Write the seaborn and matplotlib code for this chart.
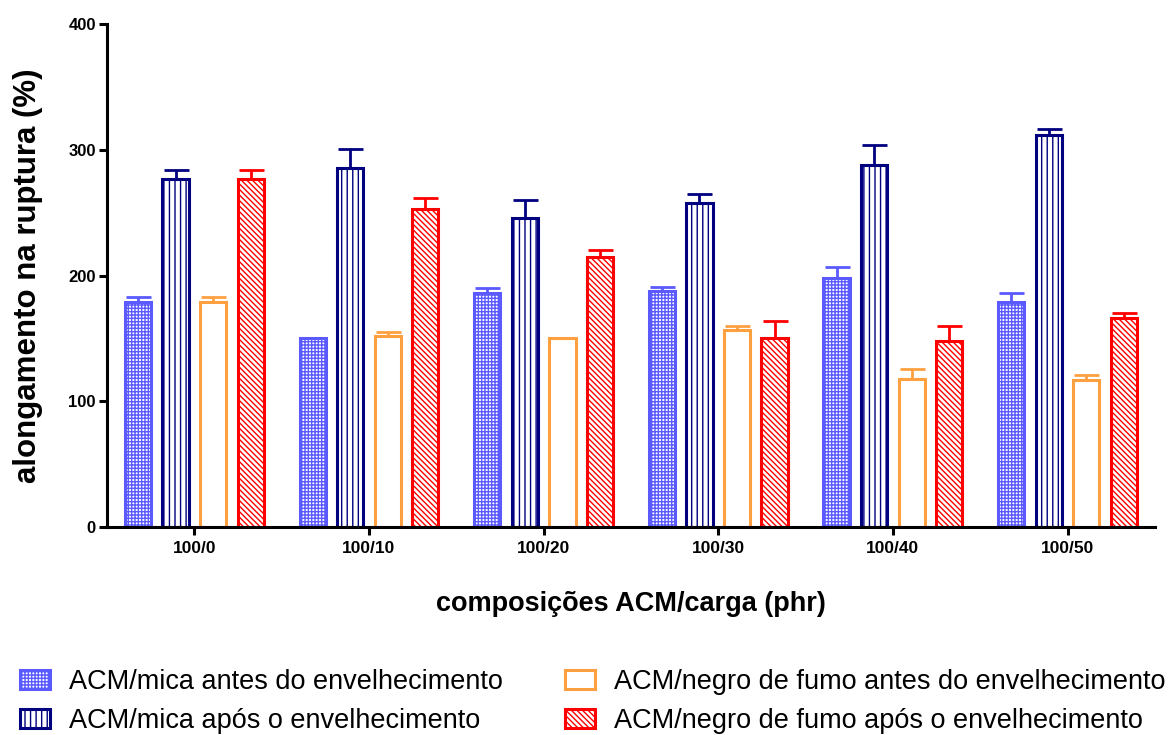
import numpy as np
import pandas as pd
import matplotlib
matplotlib.use("Agg")
import matplotlib.pyplot as plt
import seaborn as sns
from matplotlib.patches import Patch

compositions = ["100/0", "100/10", "100/20", "100/30", "100/40", "100/50"]
series = ["ACM/mica antes do envelhecimento",
          "ACM/mica após o envelhecimento",
          "ACM/negro de fumo antes do envelhecimento",
          "ACM/negro de fumo após o envelhecimento"]
mica_antes = [179, 150, 186, 188, 198, 179]
mica_antes_err = [4, 0, 4, 3, 9, 7]
mica_apos = [277, 286, 246, 258, 288, 312]
mica_apos_err = [7, 15, 14, 7, 16, 5]
negro_antes = [179, 152, 150, 157, 118, 117]
negro_antes_err = [4, 3, 0, 3, 8, 4]
negro_apos = [277, 253, 215, 150, 148, 166]
negro_apos_err = [7, 9, 5, 14, 12, 4]

colors = ["#5a5aff", "#000080", "#ffa040", "#ff0000"]
hatches = ["+++++", "|||", "", "\\\\\\\\\\\\"]

values = [mica_antes, mica_apos, negro_antes, negro_apos]
errors = [mica_antes_err, mica_apos_err, negro_antes_err, negro_apos_err]

rows = []
for s, vals in zip(series, values):
    for c, v in zip(compositions, vals):
        rows.append({"comp": c, "serie": s, "valor": v})
df = pd.DataFrame(rows)

sns.set_style("ticks")
plt.rcParams['font.family'] = ['Liberation Sans', 'DejaVu Sans']
plt.rcParams['hatch.linewidth'] = 1.0
plt.rcParams['text.color'] = 'black'
plt.rcParams['axes.labelcolor'] = 'black'
plt.rcParams['xtick.color'] = 'black'
plt.rcParams['ytick.color'] = 'black'
plt.rcParams['axes.edgecolor'] = 'black'

fig = plt.figure(figsize=(11.76, 7.35), dpi=100)
ax = fig.add_axes([0.091, 0.283, 0.891, 0.684])

sns.barplot(data=df, x="comp", y="valor", hue="serie", hue_order=series,
            order=compositions, palette=colors, fill=False, width=0.86, gap=0.3,
            errorbar=None, linewidth=2.2, legend=False, ax=ax)

for cont, col, h, errs in zip(ax.containers, colors, hatches, errors):
    xs = []
    ys = []
    for p in cont.patches:
        p.set_hatch(h)
        p.set_edgecolor(col)
        p.set_facecolor("white")
        xs.append(p.get_x() + p.get_width() / 2)
        ys.append(p.get_height())
    ax.errorbar(xs, ys, yerr=[np.zeros(len(errs)), errs], fmt="none",
                ecolor=col, elinewidth=2, capsize=9, capthick=2, zorder=1)

ax.set_ylim(0, 400)
ax.set_xlim(-0.5, 5.5)
ax.set_yticks([0, 100, 200, 300, 400])
sns.despine(ax=ax)
for sp in ["left", "bottom"]:
    ax.spines[sp].set_linewidth(2.2)
    ax.spines[sp].set_color("black")
ax.tick_params(axis="both", width=2.2, length=6, colors="black")
ax.tick_params(axis="x", labelsize=12.5, pad=4)
ax.tick_params(axis="y", labelsize=12, pad=2)
for lab in ax.get_xticklabels() + ax.get_yticklabels():
    lab.set_fontweight("bold")

ax.set_ylabel("alongamento na ruptura (%)", fontsize=22.5, fontweight="bold")
ax.yaxis.set_label_coords(-0.061, 0.5)
ax.set_xlabel("composições ACM/carga (phr)", fontsize=19.5, fontweight="bold")
ax.xaxis.set_label_coords(0.5, -0.127)

handles = [Patch(facecolor="white", edgecolor=c, hatch=h, linewidth=2.2)
           for c, h in zip(colors, hatches)]
fig.legend(handles, series, loc="upper left", bbox_to_anchor=(20 / 1176, 1 - 669 / 735),
           ncol=2, frameon=False, fontsize=19.5, handlelength=1.1, handleheight=0.65,
           columnspacing=2.3, handletextpad=0.7, labelspacing=0.48,
           borderpad=0, borderaxespad=0)

fig.savefig("out.png", dpi=100)
